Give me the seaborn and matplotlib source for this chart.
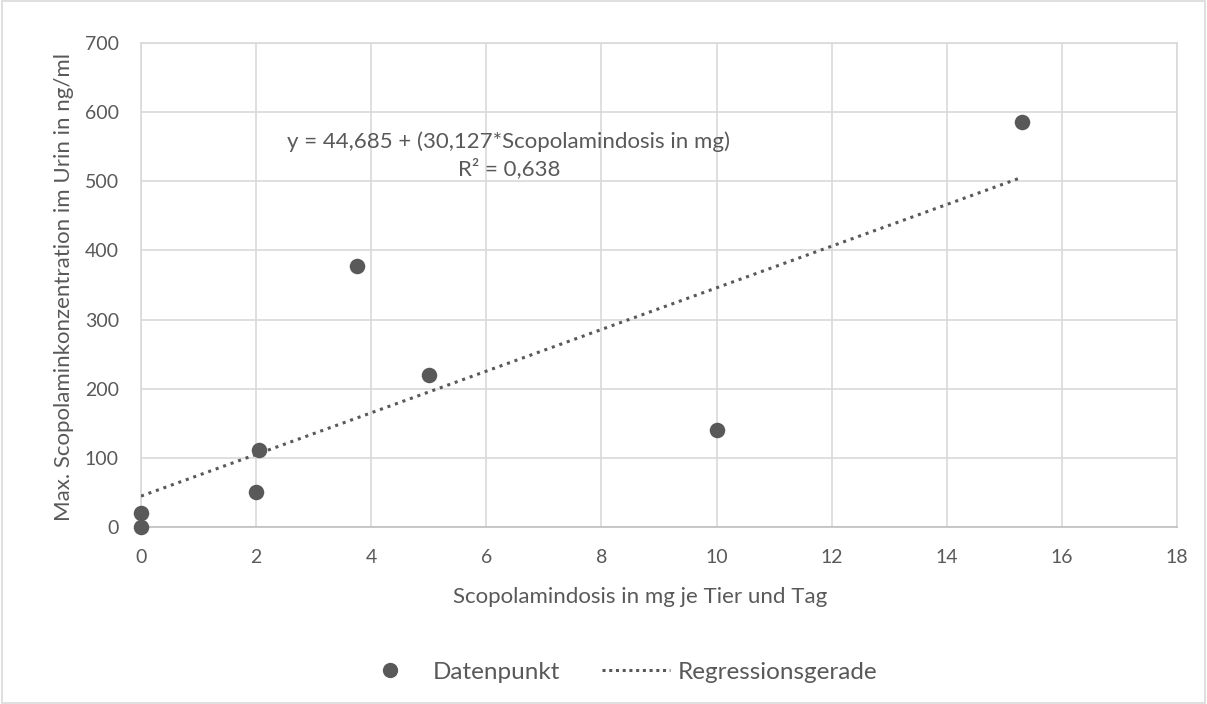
import matplotlib
matplotlib.use("Agg")
import matplotlib.pyplot as plt
import seaborn as sns
import numpy as np
import pandas as pd
from matplotlib.lines import Line2D
from matplotlib.patches import Rectangle

# Data
dose_mg = [0, 0, 2.0, 2.05, 3.75, 5.0, 10.0, 15.3]
conc_ng_ml = [0, 20, 50, 112, 377, 220, 140, 586]
intercept = 44.685
slope = 30.127
x_ticks = [0, 2, 4, 6, 8, 10, 12, 14, 16, 18]
y_ticks = [0, 100, 200, 300, 400, 500, 600, 700]

df = pd.DataFrame({"dose": dose_mg, "conc": conc_ng_ml})
line_x = np.array([min(dose_mg), max(dose_mg)])
line_df = pd.DataFrame({"dose": line_x, "conc": intercept + slope * line_x})

sns.set_theme(style="white")
plt.rcParams['font.family'] = ['Lato', 'DejaVu Sans']
gray = "#595959"
grid_c = "#d9d9d9"

fig = plt.figure(figsize=(12.07, 7.04), dpi=100)
ax = fig.add_axes([0.1168, 0.2514, 0.8584, 0.6875])

sns.lineplot(data=line_df, x="dose", y="conc", ax=ax, color=gray, linestyle=(0, (1, 1.6)),
             linewidth=2.2, zorder=3)
sns.scatterplot(data=df, x="dose", y="conc", ax=ax, color=gray, s=125, edgecolor=gray,
                linewidth=0, zorder=4, clip_on=False)

ax.set_xlim(0, 18)
ax.set_ylim(0, 700)
ax.set_xticks(x_ticks)
ax.set_yticks(y_ticks)
ax.grid(True, color=grid_c, linewidth=1.2)
ax.set_axisbelow(True)
for s in ["top", "right", "left", "bottom"]:
    ax.spines[s].set_visible(True)
    ax.spines[s].set_color(grid_c)
    ax.spines[s].set_linewidth(1.2)
ax.spines["bottom"].set_color("#bfbfbf")
ax.tick_params(axis="x", colors=gray, labelsize=14, length=0, pad=16)
ax.tick_params(axis="y", colors=gray, labelsize=14, length=0, pad=16)
ax.set_xlabel("Scopolamindosis in mg je Tier und Tag", color=gray, fontsize=16)
ax.set_ylabel("Max. Scopolaminkonzentration im Urin in ng/ml", color=gray, fontsize=16)
ax.xaxis.set_label_coords(0.4817, -0.145)
ax.yaxis.set_label_coords(-0.074, 0.496)
ax.xaxis.label.set_va("center")
ax.yaxis.label.set_va("center")

ax.text(6.39, 557, "y = 44,685 + (30,127*Scopolamindosis in mg)", ha="center", va="center",
        color=gray, fontsize=16)
ax.text(6.39, 519, "R² = 0,638", ha="center", va="center", color=gray, fontsize=16)

handles = [
    Line2D([], [], marker="o", color=gray, linestyle="none", markersize=10),
    Line2D([], [], color=gray, linestyle=(0, (1, 1.2)), linewidth=2.2),
]
fig.legend(handles, ["Datenpunkt", "Regressionsgerade"], loc="center",
           bbox_to_anchor=(0.511, 0.045), ncol=2, frameon=False, fontsize=17.5,
           labelcolor=gray, handlelength=2.8, columnspacing=1.73, handletextpad=0.35)

fig.patches.append(Rectangle((0.002, 0.002), 0.996, 0.996, transform=fig.transFigure,
                             fill=False, edgecolor=grid_c, linewidth=1.2))

fig.savefig("out.png", dpi=100)
